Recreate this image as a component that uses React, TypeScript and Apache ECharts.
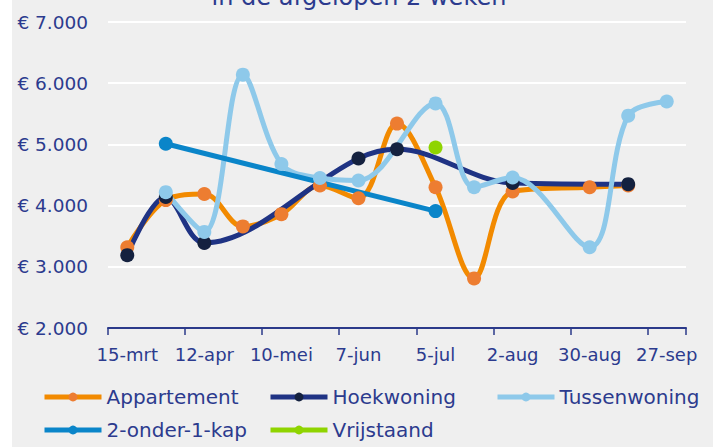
import React, { useEffect, useRef } from "react";
import * as echarts from "echarts";

const categories = ["15-mrt", "29-mrt", "12-apr", "26-apr", "10-mei", "24-mei", "7-jun", "21-jun", "5-jul", "19-jul", "2-aug", "16-aug", "30-aug", "13-sep", "27-sep"];
const appartement = [3320, 4090, 4190, 3660, 3860, 4330, 4120, 5340, 4300, 2810, 4230, null, 4300, 4330, null];
const hoekwoning = [3190, 4140, 3390, null, null, null, 4770, 4920, null, null, 4370, null, null, 4350, null];
const tussenwoning = [null, 4220, 3570, 6140, 4680, 4450, 4410, null, 5670, 4300, 4460, null, 3320, 5470, 5700];
const tweeOnderEenKap = [null, 5010, null, null, null, null, null, null, 3910, null, null, null, null, null, null];
const vrijstaand = [null, null, null, null, null, null, null, null, 4950, null, null, null, null, null, null];
const yTicks = { min: 2000, max: 7000, interval: 1000 };
const titleText = "in de afgelopen 2 weken";

const FONT = "DejaVu Sans";
const TEXT = "#2c3b8e";

export default function App() {
  const ref = useRef<HTMLDivElement>(null);
  useEffect(() => {
    if (!ref.current) return;
    const chart = echarts.init(ref.current, null, { renderer: "svg" });
    const mk = (name: string, data: any[], line: string, marker: string, showLine = true) => ({
      name,
      type: "line",
      data,
      smooth: 0.35,
      connectNulls: true,
      symbol: "circle",
      symbolSize: 14,
      lineStyle: { color: line, width: showLine ? 5 : 0 },
      itemStyle: { color: marker },
      emphasis: { disabled: true },
    });
    const legend = (name: string, left: number, top: number, line: string, marker: string) => ({
      data: [name],
      left,
      top,
      padding: 0,
      itemWidth: 57,
      itemHeight: 11,
      selectedMode: false,
      textStyle: { fontFamily: FONT, fontSize: 20, color: TEXT, lineHeight: 22 },
      lineStyle: { color: line, width: 5 },
      itemStyle: { color: marker },
    });
    chart.setOption({
      animation: false,
      backgroundColor: "#efefef",
      textStyle: { fontFamily: FONT },
      grid: { left: 108, right: 32, top: 22, bottom: 119, containLabel: false },
      xAxis: {
        type: "category",
        data: categories,
        boundaryGap: true,
        axisLine: { lineStyle: { color: "#2b3a8a", width: 2 } },
        axisTick: { show: true, length: 7, lineStyle: { color: "#2b3a8a", width: 1.5 } },
        axisLabel: { interval: 1, margin: 17, fontFamily: FONT, fontSize: 18, color: TEXT },
        splitLine: { show: false },
      },
      yAxis: {
        type: "value",
        min: yTicks.min,
        max: yTicks.max,
        interval: yTicks.interval,
        axisLine: { show: false },
        axisTick: { show: false },
        axisLabel: {
          margin: 20,
          fontFamily: FONT,
          fontSize: 18.5,
          color: TEXT,
          formatter: (v: number) => "€ " + Math.round(v / 1000) + ".000",
        },
        splitLine: { lineStyle: { color: "#ffffff", width: 2 } },
      },
      legend: [
        legend("Appartement", 42, 386, "#f28a00", "#ed7d31"),
        legend("Hoekwoning", 268, 386, "#1f3384", "#14213f"),
        legend("Tussenwoning", 495, 386, "#8ec9ea", "#8ec9ea"),
        legend("2-onder-1-kap", 42, 419, "#0a85c9", "#0a85c9"),
        legend("Vrijstaand", 268, 419, "#8fd400", "#8fd400"),
      ],
      graphic: [
        { type: "rect", shape: { x: 0, y: 0, width: 12, height: 447 }, style: { fill: "#ffffff" }, silent: true },
        { type: "rect", shape: { x: 713, y: 0, width: 5, height: 447 }, style: { fill: "#ffffff" }, silent: true },
        {
          type: "text",
          x: 359,
          y: -3,
          style: { text: titleText, fontFamily: FONT, fontSize: 24, fill: TEXT, align: "center", verticalAlign: "middle" },
          silent: true,
        },
      ],
      series: [
        mk("Appartement", appartement, "#f28a00", "#ed7d31"),
        mk("Hoekwoning", hoekwoning, "#1f3384", "#14213f"),
        mk("Tussenwoning", tussenwoning, "#8ec9ea", "#8ec9ea"),
        mk("2-onder-1-kap", tweeOnderEenKap, "#0a85c9", "#0a85c9"),
        { ...mk("Vrijstaand", vrijstaand, "#8fd400", "#8fd400"), lineStyle: { color: "#8fd400", width: 5 } },
      ],
    });
    return () => chart.dispose();
  }, []);
  return <div ref={ref} style={{ position: "absolute", left: 0, top: 0, width: 718, height: 447 }} />;
}
